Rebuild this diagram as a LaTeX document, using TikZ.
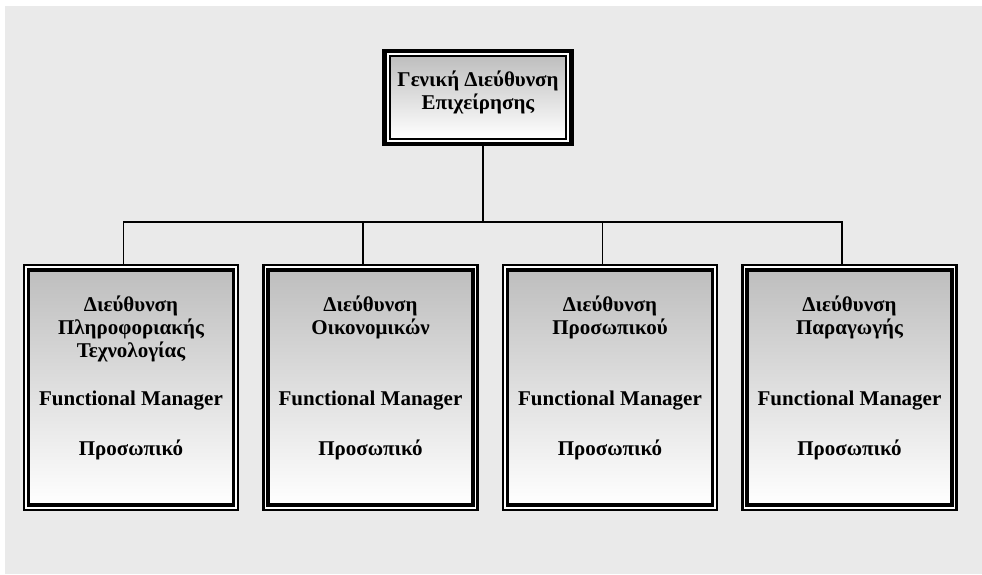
\documentclass[tikz,border=0pt]{standalone}
\usepackage{fontspec}
\setmainfont{Liberation Serif}
\usepackage{tikz}
\usetikzlibrary{positioning}
\usetikzlibrary{calc}
\definecolor{fond}{HTML}{EAEAEA}
\definecolor{degrade}{HTML}{BEBEBE}
\tikzset{
  texte/.style = {align=center, inner sep=0pt,
    font=\fontsize{21}{23}\selectfont\bfseries},
  dir_ext/.style = {rectangle, draw=black, fill=white, line width=4.3pt,
    inner sep=0pt, minimum width=187pt, minimum height=93pt},% direction generale, cadre exterieur
  dir_int/.style = {rectangle, draw=black, line width=2.3pt, top color=degrade,
    bottom color=white, inner sep=0pt, minimum width=176pt, minimum height=83pt},% direction generale, cadre interieur
  dep_ext/.style = {rectangle, draw=black, fill=white, line width=2.2pt,
    inner sep=0pt, minimum width=214pt, minimum height=245pt},% departement, cadre exterieur
  dep_int/.style = {rectangle, draw=black, line width=3.4pt, top color=degrade,
    bottom color=white, inner sep=0pt, minimum width=205pt, minimum height=235pt},% departement, cadre interieur
  lien/.style = {draw=black, line width=1.6pt}
}

\begin{document}
\begin{tikzpicture}[x=1pt,y=-1pt]
\useasboundingbox (0,0) rectangle (982,574);
\fill [fond] (5,6) rectangle (982,574);

\node [dir_ext] (gd) at (478,97.2) {};
\node [dir_int] (gdi) at (gd) {};
\node [texte] (gdt) at ([yshift=5pt]gd) {Γενική Διεύθυνση\\Επιχείρησης};

\foreach \i/\x/\nom in {1/131/Διεύθυνση\\Πληροφοριακής\\Τεχνολογίας,
  2/370.5/Διεύθυνση\\Οικονομικών, 3/610/Διεύθυνση\\Προσωπικού,
  4/849.5/Διεύθυνση\\Παραγωγής}{
  \node [dep_ext] (d\i) at (\x,387.5) {};
  \node [dep_int] (di\i) at (d\i) {};
  \node [texte, anchor=north] (dn\i) at ([yshift=91.5pt]d\i) {\nom};
  \node [texte] (fm\i) at ([yshift=-13.5pt]d\i) {Functional Manager};
  \node [texte] (p\i) at ([yshift=-62.5pt]d\i) {Προσωπικό};
}

%\coordinate (bus) at (483,220);
\draw [lien] ([xshift=5pt]gd.south) -- ++(0,76) coordinate (bus);
\foreach \i in {1,...,4}
  \draw [lien] (bus) -| ([xshift=-7.5pt]d\i.north);
\end{tikzpicture}
\end{document}
